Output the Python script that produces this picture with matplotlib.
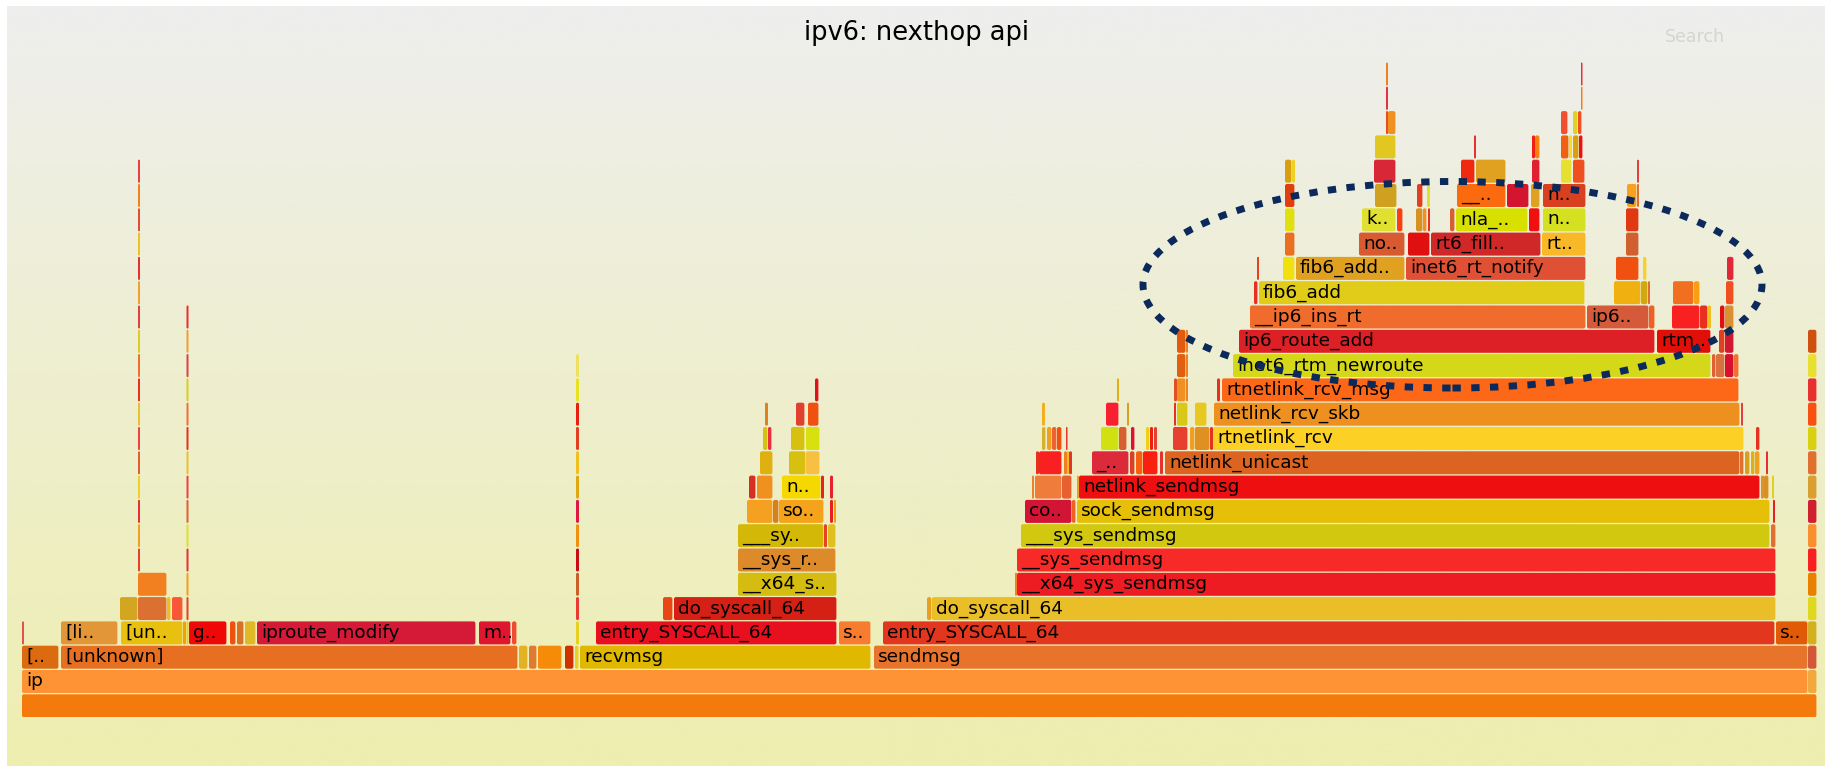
import matplotlib
matplotlib.use("Agg")
import numpy as np
import matplotlib.pyplot as plt
from matplotlib.colors import LinearSegmentedColormap
from matplotlib.patches import FancyBboxPatch, Ellipse

TITLE = "ipv6: nexthop api"
TOTAL_SAMPLES = 1795
N_LEVELS = 27

# frames per stack depth: (first sample, sample count, function name)
L0 = [(0, 1795, "")]
L1 = [(0, 1786, "ip"), (1786, 9, "")]
L2 = [(0, 37, "[.."), (39, 457, "[unknown]"), (497, 9, ""), (507, 8, ""), (516, 24, ""),
      (543, 9, ""), (553, 4, ""), (558, 291, "recvmsg"), (852, 934, "sendmsg"), (1786, 9, "")]
L3 = [(0, 2, ""), (39, 57, "[li.."), (99, 62, "[un.."), (161, 3, ""), (167, 38, "g.."),
      (208, 6, ""), (215, 7, ""), (223, 11, ""), (235, 219, "iproute_modify"), (457, 32, "m.."),
      (490, 5, ""), (574, 241, "entry_SYSCALL_64"), (817, 32, "s.."),
      (861, 892, "entry_SYSCALL_64"), (1754, 32, "s..")]
L4 = [(98, 18, ""), (116, 29, ""), (145, 4, ""), (150, 11, ""), (641, 10, ""),
      (652, 163, "do_syscall_64"), (905, 5, ""), (910, 844, "do_syscall_64")]
L5 = [(116, 29, ""), (716, 99, "__x64_s.."), (993, 2, ""), (995, 759, "__x64_sys_sendmsg")]
L6 = [(716, 98, "__sys_r.."), (995, 759, "__sys_sendmsg")]
L7 = [(716, 86, "___sy.."), (802, 3, ""), (806, 8, ""), (999, 749, "___sys_sendmsg"), (1749, 5, "")]
L8 = [(725, 26, ""), (751, 6, ""), (757, 45, "so.."), (808, 3, ""), (812, 2, ""),
      (1003, 47, "co.."), (1050, 4, ""), (1055, 693, "sock_sendmsg"), (1751, 2, "")]
L9 = [(727, 7, ""), (735, 16, ""), (760, 39, "n.."), (799, 3, ""), (808, 3, ""),
      (1010, 2, ""), (1013, 27, ""), (1040, 10, ""), (1055, 2, ""),
      (1057, 681, "netlink_sendmsg"), (1739, 3, ""), (1742, 5, ""), (1750, 2, "")]
L10 = [(738, 13, ""), (767, 17, ""), (784, 14, ""), (1014, 3, ""), (1017, 23, ""),
       (1042, 3, ""), (1045, 2, ""), (1047, 3, ""), (1070, 37, "_.."), (1108, 5, ""),
       (1114, 7, ""), (1121, 15, ""), (1138, 3, ""), (1143, 575, "netlink_unicast"),
       (1718, 4, ""), (1723, 5, ""), (1729, 4, ""), (1733, 5, ""), (1744, 2, "")]
L11 = [(741, 5, ""), (746, 4, ""), (769, 14, ""), (784, 14, ""), (1020, 4, ""),
       (1025, 5, ""), (1030, 5, ""), (1035, 5, ""), (1044, 1.5, ""), (1079, 18, ""),
       (1097, 8, ""), (1109, 4, ""), (1124, 3, ""), (1128, 3, ""), (1132, 3, ""),
       (1151, 15, ""), (1168, 5, ""), (1173, 15, ""), (1188, 3, ""),
       (1191, 531, "rtnetlink_rcv"), (1734, 4, "")]
L12 = [(743, 3, ""), (774, 9, ""), (786, 11, ""), (1020, 3, ""), (1084, 13, ""),
       (1105, 2, ""), (1152, 2, ""), (1155, 11, ""), (1173, 12, ""),
       (1192, 526, "netlink_rcv_skb"), (1719, 2, "")]
L13 = [(793, 4, ""), (1095, 2, ""), (1152, 3, ""), (1155, 9, ""), (1164, 2, ""),
       (1195, 3, ""), (1200, 517, "rtnetlink_rcv_msg")]
L14 = [(1155, 9, ""), (1164, 2, ""), (1211, 478, "inet6_rtm_newroute"), (1690, 4, ""),
       (1694, 9, ""), (1703, 9, ""), (1712, 5, "")]
L15 = [(1155, 9, ""), (1164, 2, ""), (1217, 416, "ip6_route_add"), (1635, 54, "rtm.."),
       (1697, 6, ""), (1703, 9, "")]
L16 = [(1228, 336, "__ip6_ins_rt"), (1565, 62, "ip6.."), (1627, 6, ""), (1650, 28, ""),
       (1678, 8, ""), (1686, 3, ""), (1698, 5, ""), (1703, 9, "")]
L17 = [(1232, 4, ""), (1237, 326, "fib6_add"), (1592, 27, ""), (1619, 7, ""), (1626, 2, ""),
       (1651, 21, ""), (1672, 6, ""), (1704, 8, "")]
L18 = [(1235, 2, ""), (1261, 12, ""), (1274, 109, "fib6_add.."), (1384, 180, "inet6_rt_notify"),
       (1594, 23, ""), (1621, 4, ""), (1705, 7, "")]
L19 = [(1263, 10, ""), (1337, 46, "no.."), (1386, 22, ""), (1409, 110, "rt6_fill.."),
       (1520, 44, "rt.."), (1604, 13, "")]
L20 = [(1263, 10, ""), (1340, 34, "k.."), (1375, 6, ""), (1394, 7, ""), (1401, 4, ""),
       (1406, 2, ""), (1428, 5, ""), (1434, 72, "nla_.."), (1507, 11, ""), (1521, 43, "n.."),
       (1604, 13, "")]
L21 = [(1263, 10, ""), (1353, 22, ""), (1395, 6, ""), (1405, 3, ""), (1435, 49, "__.."),
       (1485, 22, ""), (1509, 9, ""), (1521, 43, "n.."), (1605, 10, ""), (1615, 2, "")]
L22 = [(1263, 7, ""), (1270, 3, ""), (1352, 22, ""), (1439, 14, ""), (1454, 30, ""),
       (1510, 8, ""), (1539, 11, ""), (1551, 12, ""), (1615, 2, "")]
L23 = [(1353, 21, ""), (1452, 2, ""), (1510, 3, ""), (1513, 5, ""), (1539, 8, ""),
       (1547, 3, ""), (1551, 6, ""), (1557, 4, "")]
L24 = [(1364, 2, ""), (1366, 8, ""), (1539, 7, ""), (1551, 5, ""), (1556, 4, "")]
L25 = [(1364, 2, ""), (1559, 1.5, "")]
L26 = [(1364, 2, ""), (1559, 1.5, "")]

# tall thin towers: (first sample, sample count, first level, one colour per level)
SPIKES = [
    (116, 2, 6, ["#e84030", "#f0a020", "#e83030", "#f0d020", "#e06030", "#f04040",
                 "#e8c030", "#e83020", "#f07030", "#d8d020", "#e04040", "#f0a030",
                 "#e83030", "#f0c020", "#e05030", "#f08020", "#e84040"]),
    (164.5, 2, 3, ["#e8d020", "#e84030", "#f0a020", "#e83030", "#e0e030", "#e06030",
                   "#f04040", "#e8c030", "#e83020", "#f07030", "#d8d020", "#e04040",
                   "#f0a030", "#e83030"]),
    (554, 3, 3, ["#e8d020", "#e83a30", "#c86028", "#c80c10", "#f09010", "#e01840",
                 "#e0a810", "#f0c020", "#e04020", "#e82010", "#e8e020", "#f0e060"]),
    (1786, 9, 3, ["#d4b020", "#e0d820", "#e88000", "#f82020", "#f89030", "#d02030",
                  "#d8a030", "#e07030", "#d8d010", "#f85010", "#e83030", "#e8e030",
                  "#d05010"]),
]

C0 = ["#f57a0c"]
C1 = ["#fd9335", "#f2a83a"]
C2 = ["#dc6a10", "#e66f22", "#e2b224", "#e07a30", "#f58b08", "#cc3300", "#e8d020",
      "#e0b800", "#e8742c", "#d25838"]
C3 = ["#e85050", "#e39638", "#e9c010", "#f0a000", "#f00808", "#f05010", "#d87028",
      "#e0b828", "#d51a38", "#e01530", "#f04a30", "#e8101e", "#f87c30", "#e3361e", "#e05a08"]
C4 = ["#d4a520", "#dc7030", "#e8c020", "#f85838", "#e84614", "#d42015", "#e8a020", "#eabe28"]
C5 = ["#f28020", "#d4bc10", "#f08020", "#ec1c22"]
C6 = ["#dc8a2a", "#f82a28"]
C7 = ["#d4b808", "#e84020", "#e0c020", "#d2c810", "#e07030"]
C8 = ["#f5a020", "#d88020", "#f5a31a", "#e82020", "#f0a010", "#d21535", "#f06020",
      "#e6c008", "#e82020"]
C9 = ["#d83020", "#f09020", "#f5d800", "#e82020", "#e82030", "#f08030", "#f07c3c",
      "#e86030", "#f0a020", "#ee1010", "#e09030", "#d89020", "#e0d020"]
C10 = ["#e0b010", "#d8c010", "#f8c040", "#e83020", "#f82020", "#f08020", "#f0c020",
       "#e83030", "#dc2a3a", "#d84028", "#f86010", "#f82010", "#e83030", "#dc6420",
       "#e07030", "#d8a020", "#d8b020", "#f0a020", "#e83030"]
C11 = ["#d8c010", "#e83040", "#d8c010", "#d8e010", "#d8b030", "#f0a020", "#f06030",
       "#f05010", "#e83030", "#d0e010", "#d86030", "#e01030", "#f0d010", "#f02010",
       "#e84030", "#e84030", "#f0a020", "#e09020", "#e83020", "#fcd024", "#e83020"]
C12 = ["#e08020", "#e04030", "#f05010", "#f0b020", "#f82030", "#d8a020", "#e83020",
       "#d8c818", "#e8c820", "#ee9020", "#e04040"]
C13 = ["#e01020", "#e0b010", "#e05020", "#f09020", "#f08020", "#e83020", "#fc6818"]
C14 = ["#e06010", "#f08020", "#d4d818", "#e06030", "#d87040", "#d81030", "#f07030"]
C15 = ["#e05a10", "#f08020", "#dc2025", "#e01008", "#e04020", "#d01830"]
C16 = ["#f06c2c", "#d45a3a", "#f06020", "#f82020", "#e83020", "#f0c020", "#e01010", "#d89030"]
C17 = ["#e83020", "#e2cc1a", "#f0b010", "#d0a810", "#e07030", "#f07020", "#f8a010", "#f05020"]
C18 = ["#e84020", "#f0e010", "#e0a020", "#e05035", "#f05010", "#f8d030", "#e02838"]
C19 = ["#e87020", "#d85a30", "#e01010", "#d02828", "#f8b828", "#d06030"]
C20 = ["#e0e010", "#e0e030", "#f84010", "#d89020", "#f09020", "#e83020", "#d86030",
       "#d8e000", "#f01010", "#d4e020", "#e03810"]
C21 = ["#e04010", "#d0a020", "#e04020", "#e0e030", "#fc6a10", "#d41530", "#e0a020",
       "#d84020", "#f8a020", "#e07030"]
C22 = ["#d8a010", "#f0d020", "#d82838", "#f02a10", "#e0a020", "#e02030", "#e8e030",
       "#f05020", "#e04040"]
C23 = ["#e0c820", "#e83030", "#f02010", "#f88010", "#f06010", "#f0e020", "#d8a010", "#f01010"]
C24 = ["#e05020", "#f09020", "#f05030", "#e0d020", "#f05020"]
C25 = ["#e83040", "#f08020"]
C26 = ["#f08020", "#e83030"]

LEVELS = [L0, L1, L2, L3, L4, L5, L6, L7, L8, L9, L10, L11, L12, L13, L14, L15, L16,
          L17, L18, L19, L20, L21, L22, L23, L24, L25, L26]
COLORS = [C0, C1, C2, C3, C4, C5, C6, C7, C8, C9, C10, C11, C12, C13, C14, C15, C16,
          C17, C18, C19, C20, C21, C22, C23, C24, C25, C26]

# highlight drawn round the fib6_add region: centre (sample, level), size
HIGHLIGHT_CENTER = (1430.5, 17.8)
HIGHLIGHT_SIZE = (619, 8.5)

W, H = 1825, 766
PITCH = 24.3          # px per stack level
BAR_H = 0.947         # bar height in levels
X0 = 22               # left edge of the graph in px
fig = plt.figure(figsize=(W / 100, H / 100), dpi=100, facecolor="white")

# background gradient panel
bg = fig.add_axes([7 / W, 0, (W - 7) / W, (H - 6) / H])
grad_cmap = LinearSegmentedColormap.from_list("bg", ["#eeeeee", "#eeeeb0"])
bg.imshow(np.linspace(0, 1, 256).reshape(-1, 1), cmap=grad_cmap, aspect="auto",
          extent=(0, 1, 0, 1))
bg.set_axis_off()

bottom_px = 48.7
ax = fig.add_axes([X0 / W, bottom_px / H, TOTAL_SAMPLES / W, N_LEVELS * PITCH / H])
ax.set_xlim(0, TOTAL_SAMPLES)
ax.set_ylim(0, N_LEVELS)
ax.set_axis_off()
ax.patch.set_alpha(0)

aspect = 1 / PITCH


def draw_frame(start, width, level, color, name=""):
    w = width - 0.6 if width > 3 else max(width, 1.4)
    rs = min(2.0, w / 2)
    ax.add_patch(FancyBboxPatch((start, level), w, BAR_H,
                                boxstyle=f"round,pad=0,rounding_size={rs}",
                                mutation_aspect=aspect, facecolor=color,
                                edgecolor="none", linewidth=0))
    if name:
        ax.text(start + 4, level + 0.28, name, fontsize=13.3, color="black",
                va="baseline", ha="left", family="DejaVu Sans")


for level, (frames, colors) in enumerate(zip(LEVELS, COLORS)):
    for (start, width, name), color in zip(frames, colors):
        draw_frame(start, width, level, color, name)

for start, width, first, colors in SPIKES:
    for i, color in enumerate(colors):
        draw_frame(start, width, first + i, color)

ax.add_patch(Ellipse(HIGHLIGHT_CENTER, HIGHLIGHT_SIZE[0], HIGHLIGHT_SIZE[1],
                     fill=False, edgecolor="#0b2a5b", linewidth=5,
                     linestyle=(0, (1.2, 1.5)), clip_on=False, zorder=10))

fig.text(917 / W, 1 - 40 / H, TITLE, fontsize=18.5, ha="center", va="baseline",
         color="black")
fig.text(1665 / W, 1 - 42 / H, "Search", fontsize=12.5, ha="left", va="baseline",
         color="#d4d4d4")

fig.savefig("out.png", dpi=100, facecolor="white")
